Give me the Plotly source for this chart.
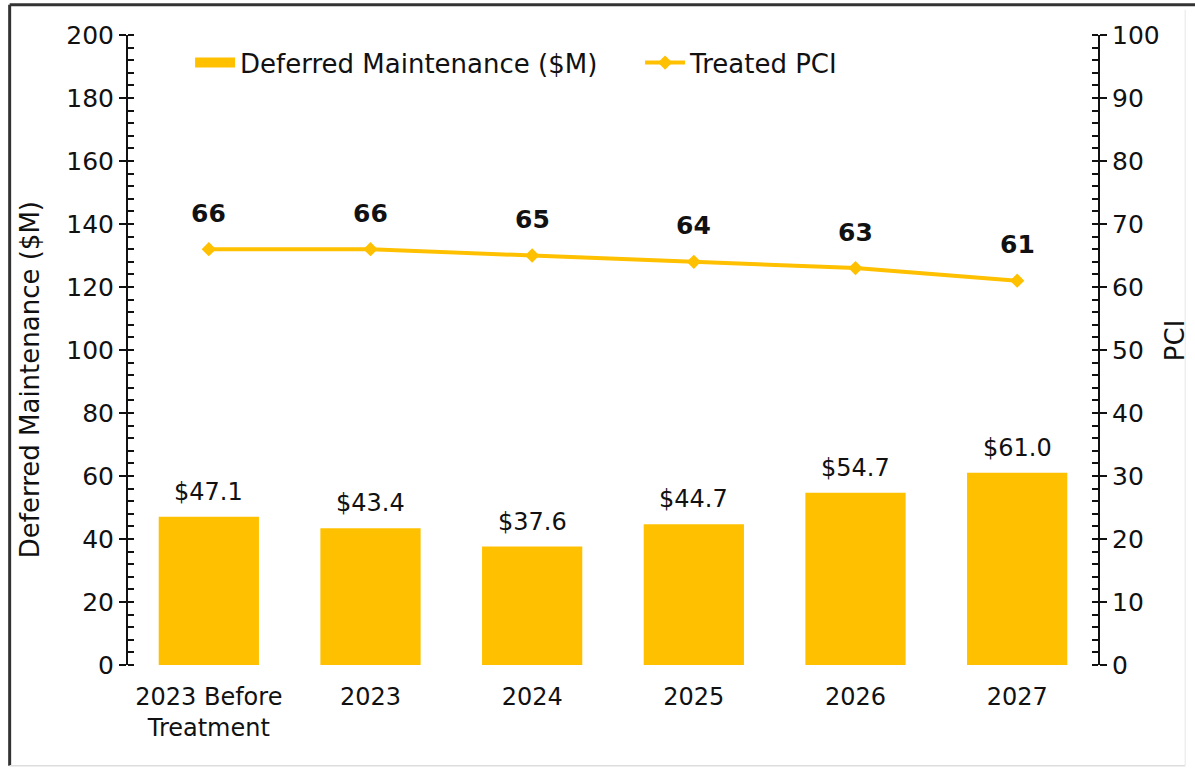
import plotly.graph_objects as go

categories = ["2023 Before<br>Treatment", "2023", "2024", "2025", "2026", "2027"]
deferred_maintenance = [47.1, 43.4, 37.6, 44.7, 54.7, 61.0]
treated_pci = [66, 66, 65, 64, 63, 61]

GOLD = "#FFC000"
FONT = "DejaVu Sans"
INK = "#111"

fig = go.Figure()
fig.add_trace(go.Bar(
    x=categories, y=deferred_maintenance, name="Deferred Maintenance ($M)",
    marker=dict(color=GOLD, line=dict(width=0)), yaxis="y", showlegend=False,
))
# legend-only entry drawn as a wide bar swatch, like the original
fig.add_trace(go.Scatter(
    x=[None], y=[None], name="Deferred Maintenance ($M)", mode="lines",
    line=dict(color=GOLD, width=13), yaxis="y", showlegend=True,
))
fig.add_trace(go.Scatter(
    x=categories, y=treated_pci, name="Treated PCI", yaxis="y2",
    mode="lines+markers", line=dict(color=GOLD, width=4),
    marker=dict(symbol="diamond", size=11, color=GOLD),
))

annotations = []
for i, v in enumerate(deferred_maintenance):
    annotations.append(dict(x=i, y=v, xref="x", yref="y", text=f"${v:.1f}",
                            showarrow=False, yshift=25,
                            font=dict(family=FONT, size=24, color=INK)))
for i, v in enumerate(treated_pci):
    annotations.append(dict(x=i, y=v, xref="x", yref="y2", text=f"<b>{v}</b>",
                            showarrow=False, yshift=36,
                            font=dict(family=FONT, size=25, color=INK)))
annotations.append(dict(text="Deferred Maintenance ($M)", textangle=-90, showarrow=False,
                        xref="paper", yref="paper", x=-0.101, y=0.452,
                        xanchor="center", yanchor="middle",
                        font=dict(family=FONT, size=26, color=INK)))
annotations.append(dict(text="PCI", textangle=-90, showarrow=False,
                        xref="paper", yref="paper", x=1.079, y=0.515,
                        xanchor="center", yanchor="middle",
                        font=dict(family=FONT, size=26, color=INK)))

fig.update_layout(
    width=1195, height=771,
    margin=dict(l=128, r=97, t=35, b=106),
    paper_bgcolor="white", plot_bgcolor="white",
    font=dict(family=FONT, size=25, color=INK),
    bargap=0.38,
    showlegend=True,
    legend=dict(orientation="h", x=0.064, y=0.956, xanchor="left", yanchor="middle",
                font=dict(family=FONT, size=26, color=INK), bgcolor="rgba(0,0,0,0)",
                itemwidth=40, tracegroupgap=0, entrywidth=395, entrywidthmode="pixels"),
    xaxis=dict(type="category", range=[-0.5, len(categories) - 0.5], showline=False,
               ticks="", showgrid=False, tickfont=dict(size=24, color=INK), automargin=False,
               ticklabelstandoff=15),
    yaxis=dict(range=[0, 200], dtick=20, showgrid=False, zeroline=False, automargin=False,
               showline=True, linecolor=INK, linewidth=2,
               ticks="outside", ticklen=7, tickwidth=2, tickcolor=INK,
               minor=dict(dtick=4, ticks="inside", ticklen=6, tickwidth=1.5, tickcolor=INK),
               tickfont=dict(size=25, color=INK)),
    yaxis2=dict(range=[0, 100], dtick=10, overlaying="y", side="right", showgrid=False,
                zeroline=False, automargin=False, showline=True, linecolor=INK, linewidth=2,
                ticks="outside", ticklen=7, tickwidth=2, tickcolor=INK,
                minor=dict(dtick=2, ticks="inside", ticklen=6, tickwidth=1.5, tickcolor=INK),
                tickfont=dict(size=25, color=INK)),
    annotations=annotations,
)

# outer frame of the chart image
fig.add_shape(type="line", xref="paper", yref="paper", x0=-0.122, x1=1.1, y0=1.048, y1=1.048,
              line=dict(color="#333", width=3))
fig.add_shape(type="line", xref="paper", yref="paper", x0=-0.122, x1=-0.122, y0=1.048, y1=-0.16,
              line=dict(color="#333", width=3))
fig.add_shape(type="line", xref="paper", yref="paper", x0=-0.122, x1=1.09, y0=-0.16, y1=-0.16,
              line=dict(color="#ddd", width=1.5))
fig.add_shape(type="line", xref="paper", yref="paper", x0=1.09, x1=1.09, y0=1.04, y1=-0.16,
              line=dict(color="#eee", width=1.5))

fig.write_html("out.html", config={"displayModeBar": False},
               post_script="document.body.style.margin='0px';")
